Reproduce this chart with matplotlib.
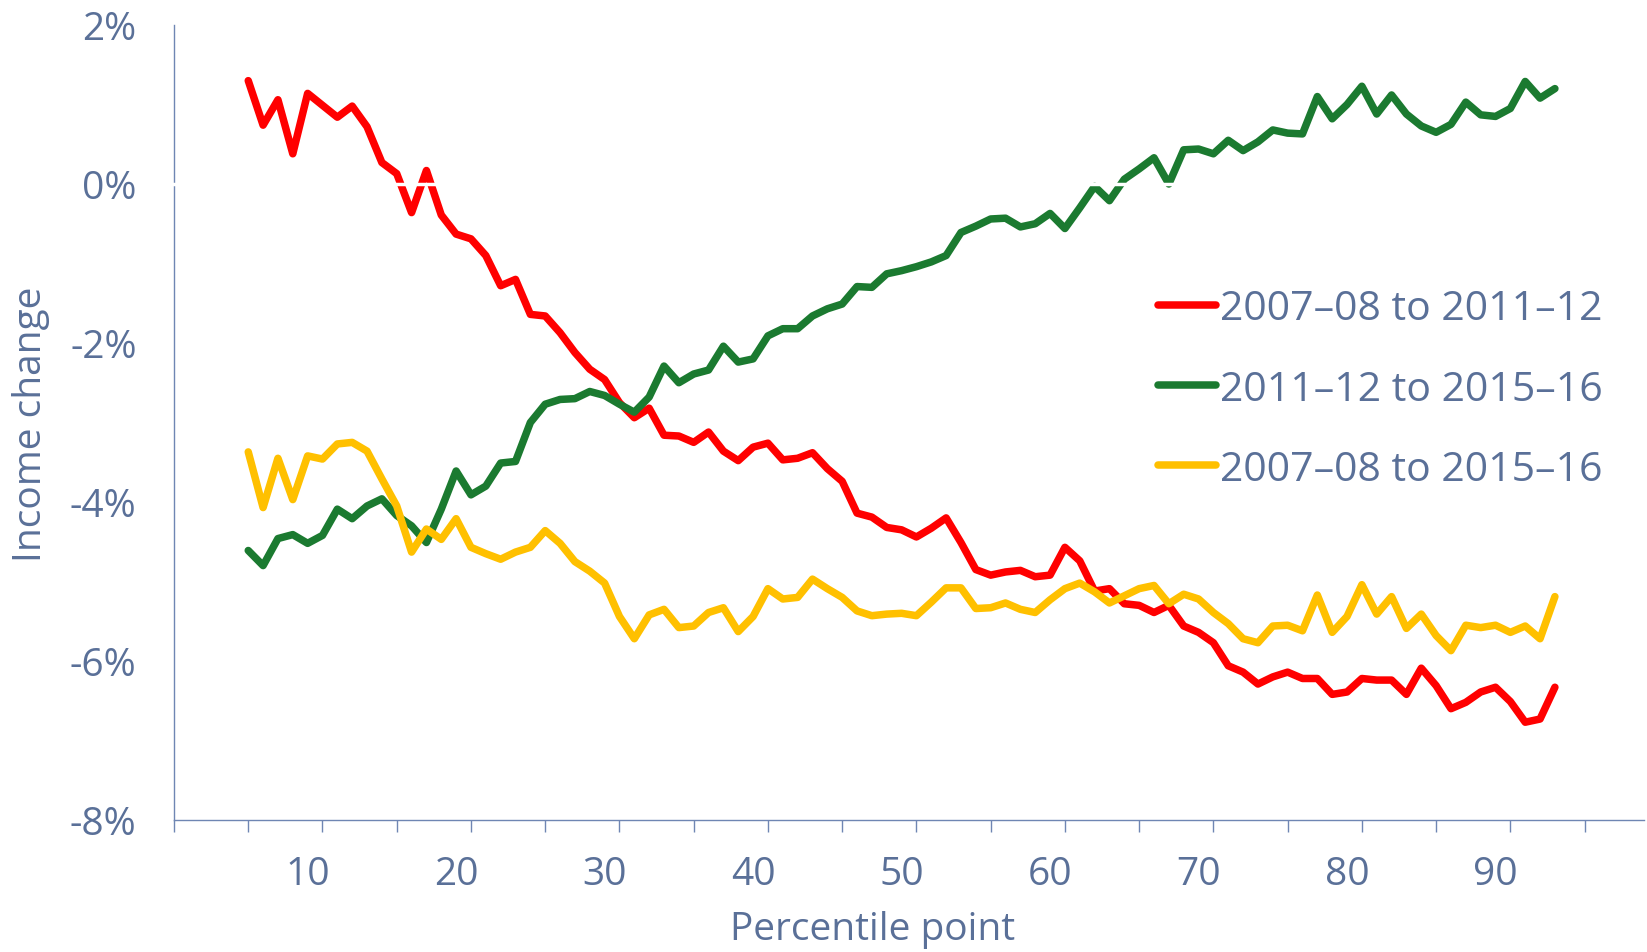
import numpy as np
import matplotlib
matplotlib.use("Agg")
import matplotlib.pyplot as plt

plt.rcParams['font.family'] = ['Open Sans', 'DejaVu Sans']

# percentile points 6..94
percentiles = np.arange(6, 95)

red_0708_1112 = [1.30, 0.74, 1.06, 0.38, 1.14, 0.99, 0.84, 0.98, 0.72, 0.27,
                 0.13, -0.36, 0.17, -0.39, -0.63, -0.69, -0.90, -1.28, -1.20, -1.64,
                 -1.66, -1.87, -2.12, -2.33, -2.46, -2.75, -2.94, -2.82, -3.16, -3.17,
                 -3.25, -3.12, -3.36, -3.48, -3.31, -3.26, -3.47, -3.45, -3.38, -3.58,
                 -3.74, -4.14, -4.19, -4.32, -4.35, -4.44, -4.33, -4.20, -4.51, -4.85,
                 -4.92, -4.88, -4.86, -4.94, -4.92, -4.57, -4.74, -5.12, -5.09, -5.28,
                 -5.30, -5.39, -5.30, -5.56, -5.64, -5.77, -6.06, -6.14, -6.29, -6.20,
                 -6.14, -6.22, -6.22, -6.42, -6.39, -6.22, -6.24, -6.24, -6.42, -6.09,
                 -6.31, -6.60, -6.52, -6.39, -6.33, -6.51, -6.77, -6.73, -6.33]

green_1112_1516 = [-4.61, -4.80, -4.46, -4.41, -4.52, -4.42, -4.09, -4.21, -4.05, -3.96,
                   -4.17, -4.30, -4.51, -4.09, -3.61, -3.91, -3.80, -3.51, -3.49, -3.00,
                   -2.77, -2.71, -2.70, -2.61, -2.66, -2.77, -2.87, -2.68, -2.29, -2.50,
                   -2.39, -2.34, -2.04, -2.24, -2.20, -1.91, -1.82, -1.82, -1.66, -1.57,
                   -1.51, -1.29, -1.30, -1.13, -1.09, -1.04, -0.98, -0.90, -0.61, -0.53,
                   -0.44, -0.43, -0.54, -0.50, -0.37, -0.56, -0.30, -0.03, -0.21, 0.06,
                   0.19, 0.33, 0.00, 0.43, 0.44, 0.38, 0.55, 0.42, 0.53, 0.68,
                   0.64, 0.63, 1.10, 0.82, 1.00, 1.23, 0.88, 1.12, 0.88, 0.73,
                   0.65, 0.75, 1.03, 0.87, 0.85, 0.95, 1.29, 1.08, 1.20]

yellow_0708_1516 = [-3.37, -4.07, -3.45, -3.97, -3.42, -3.46, -3.27, -3.25, -3.36, -3.71,
                    -4.05, -4.63, -4.34, -4.47, -4.21, -4.57, -4.65, -4.72, -4.63, -4.57,
                    -4.36, -4.52, -4.75, -4.87, -5.02, -5.44, -5.72, -5.42, -5.35, -5.58,
                    -5.56, -5.39, -5.33, -5.63, -5.44, -5.09, -5.22, -5.20, -4.97, -5.09,
                    -5.20, -5.37, -5.43, -5.41, -5.40, -5.43, -5.26, -5.08, -5.08, -5.34,
                    -5.33, -5.27, -5.35, -5.39, -5.23, -5.09, -5.02, -5.13, -5.27, -5.18,
                    -5.09, -5.05, -5.28, -5.16, -5.22, -5.39, -5.53, -5.72, -5.77, -5.56,
                    -5.55, -5.62, -5.17, -5.64, -5.44, -5.04, -5.41, -5.19, -5.59, -5.41,
                    -5.68, -5.87, -5.55, -5.58, -5.55, -5.64, -5.56, -5.72, -5.19]

labels = ["2007\u201308 to 2011\u201312", "2011\u201312 to 2015\u201316", "2007\u201308 to 2015\u201316"]
colors = ["#ff0000", "#1b7a30", "#ffc000"]

y_ticks = [2, 0, -2, -4, -6, -8]
y_ticklabels = ["2%", "0%", "-2%", "-4%", "-6%", "-8%"]
x_ticks = [10, 20, 30, 40, 50, 60, 70, 80, 90]

txt = "#5a7098"
axc = "#6f86b3"

fig = plt.figure(figsize=(16.47, 9.53), dpi=100)
ax = fig.add_axes([174 / 1647, 132 / 953, 1470 / 1647, 795 / 953])

for vals, lab, c in zip([red_0708_1112, green_1112_1516, yellow_0708_1516], labels, colors):
    ax.plot(percentiles, vals, color=c, lw=5.4, label=lab,
            solid_joinstyle='round', solid_capstyle='round', zorder=2)

# white zero line drawn over the series
ax.axhline(0, color='white', lw=2.5, zorder=4, clip_on=False)

ax.set_xlim(1, 100)
ax.set_ylim(-8, 2)

ax.set_yticks(y_ticks)
ax.set_yticklabels(y_ticklabels)
ax.set_xticks(x_ticks)
ax.set_xticklabels([str(t) for t in x_ticks])
ax.set_xticks(np.arange(1, 100, 5), minor=True)

ax.tick_params(axis='y', length=0, pad=27, labelsize=28, labelcolor=txt)
ax.tick_params(axis='x', which='major', length=0, pad=25, labelsize=28, labelcolor=txt)
ax.tick_params(axis='x', which='minor', length=8.6, width=1, color=axc, direction='out')

for s in ['top', 'right']:
    ax.spines[s].set_visible(False)
for s in ['left', 'bottom']:
    ax.spines[s].set_color(axc)
    ax.spines[s].set_linewidth(1.0)

fig.text(31.5 / 1647, 1 - 424.5 / 953, "Income change", rotation=90,
         ha='center', va='center', fontsize=28, color=txt)
fig.text(873 / 1647, 1 - 930 / 953, "Percentile point",
         ha='center', va='center', fontsize=28, color=txt)

leg = ax.legend(loc='upper left', bbox_to_anchor=(1158 / 1647, 1 - 290 / 953),
                bbox_transform=fig.transFigure, frameon=False, fontsize=29.5,
                handlelength=1.42, handletextpad=0.1, labelspacing=0.965,
                borderpad=0, borderaxespad=0)
for t in leg.get_texts():
    t.set_color(txt)

fig.savefig("out.png", dpi=100)
